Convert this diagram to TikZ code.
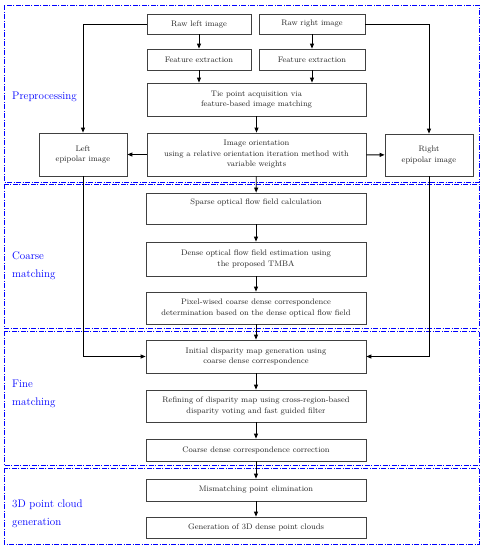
\documentclass[tikz,border=0pt]{standalone}
\usetikzlibrary{arrows.meta}
\begin{document}
\begin{tikzpicture}[x=1pt,y=-1pt,
  box/.style={draw=black!75, line width=0.8pt, fill=white, align=center, inner sep=1pt,
    font=\fontsize{8}{10.5}\selectfont, text=black!85},
  arr/.style={line width=0.9pt, -{Triangle[length=5pt,width=4pt]}},
  frame/.style={draw=blue, line width=0.8pt, dash pattern=on 5pt off 1.5pt on 1pt off 1.5pt},
  lab/.style={anchor=west, align=left, text=blue, font=\fontsize{11}{18}\selectfont, inner sep=0pt}]
\useasboundingbox (0,0) rectangle (484,550);
% frames
\draw[frame] (4,5) rectangle (479,182);
\draw[frame] (4,184) rectangle (479,328);
\draw[frame] (4,331) rectangle (479,465.5);
\draw[frame] (4,468) rectangle (479,544);
% labels
\node[lab] (lpre) at (12,97) {Preprocessing};
\node[lab] (lcoarse) at (12,266) {Coarse\\matching};
\node[lab] (lfine) at (12,394) {Fine\\matching};
\node[lab] (l3d) at (12,513.5) {3D point cloud\\generation};
% boxes
\node[box, minimum width=104pt, minimum height=20pt] (rawl) at (199,24) {Raw left image};
\node[box, minimum width=106pt, minimum height=20pt] (rawr) at (312,24) {Raw right image};
\node[box, minimum width=104pt, minimum height=21pt] (fel) at (199,59.5) {Feature extraction};
\node[box, minimum width=106pt, minimum height=21pt] (fer) at (312,59.5) {Feature extraction};
\node[box, minimum width=219pt, minimum height=33pt] (tie) at (256.5,99.5) {Tie point acquisition via\\feature-based image matching};
\node[box, minimum width=219pt, minimum height=43pt] (ori) at (256.5,154.5) {Image orientation\\using a relative orientation iteration method with\\variable weights};
\node[box, minimum width=88pt, minimum height=43pt] (lep) at (83,154.5) {Left\\epipolar image};
\node[box, minimum width=88pt, minimum height=42pt] (rep) at (429,155) {Right\\epipolar image};
\node[box, minimum width=220pt, minimum height=31pt] (sparse) at (256,208.5) {Sparse optical flow field calculation\\\strut};
\node[box, minimum width=220pt, minimum height=34pt] (dense) at (256,259) {Dense optical flow field estimation using\\the proposed TMBA};
\node[box, minimum width=220pt, minimum height=32pt] (pixel) at (256,308) {Pixel-wised coarse dense correspondence\\determination based on the dense optical flow field};
\node[box, minimum width=220pt, minimum height=33pt] (init) at (256,356.5) {Initial disparity map generation using\\coarse dense correspondence};
\node[box, minimum width=220pt, minimum height=32pt] (refine) at (256,406) {Refining of disparity map using cross-region-based\\disparity voting and fast guided filter};
\node[box, minimum width=220pt, minimum height=22pt] (corr) at (256,450) {Coarse dense correspondence correction};
\node[box, minimum width=220pt, minimum height=22pt] (mism) at (256,490) {Mismatching point elimination};
\node[box, minimum width=220pt, minimum height=21pt] (gen) at (256,527.5) {Generation of 3D dense point clouds};
% connectors
\draw[arr] (rawl.west) -| (lep.north);
\draw[arr] (rawr.east) -| (rep.north);
\draw[arr] (rawl) -- (fel);
\draw[arr] (rawr) -- (fer);
\draw[arr] (fel.south) -- (fel.south |- tie.north);
\draw[arr] (fer.south) -- (fer.south |- tie.north);
\draw[arr] (tie) -- (ori);
\draw[arr] (ori) -- (lep);
\draw[arr] (ori) -- (rep);
\draw[arr] (ori) -- (sparse);
\draw[arr] (sparse) -- (dense);
\draw[arr] (dense) -- (pixel);
\draw[arr] (pixel) -- (init);
\draw[arr] (init) -- (refine);
\draw[arr] (refine) -- (corr);
\draw[arr] (corr) -- (mism);
\draw[arr] (mism) -- (gen);
\draw[arr] (lep.south) |- (init.west);
\draw[arr] (rep.south) |- (init.east);
\end{tikzpicture}
\end{document}
